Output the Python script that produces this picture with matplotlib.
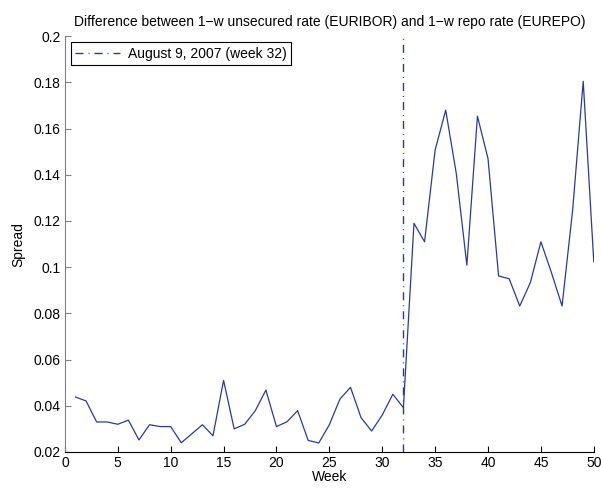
import numpy as np
import matplotlib.pyplot as plt
from matplotlib.ticker import FormatStrFormatter

plt.rcParams['font.family'] = ['Liberation Sans', 'DejaVu Sans']

weeks = np.arange(1, 51)
spread = [0.0438, 0.0421, 0.0330, 0.0330, 0.0320, 0.0338, 0.0252, 0.0318, 0.0310, 0.0310,
          0.0240, 0.0279, 0.0318, 0.0270, 0.0510, 0.0300, 0.0320, 0.0379, 0.0468, 0.0310,
          0.0331, 0.0379, 0.0250, 0.0239, 0.0318, 0.0429, 0.0480, 0.0348, 0.0291, 0.0360,
          0.0450, 0.0392, 0.1190, 0.1110, 0.1507, 0.1680, 0.1406, 0.1009, 0.1654, 0.1470,
          0.0962, 0.0950, 0.0832, 0.0933, 0.1110, 0.0976, 0.0832, 0.1247, 0.1805, 0.1023]
event_week = 32
event_label = 'August 9, 2007 (week 32)'

fs = 10

fig = plt.figure(figsize=(6.01, 4.88), dpi=100)
ax = fig.add_axes([0.108, 0.0738, 0.88, 0.852])

line_col = '#2a3a9c'
ax.plot(weeks, spread, color=line_col, lw=0.9)
ax.axvline(event_week, color=line_col, lw=1.0, linestyle=(0, (5.8, 3.6, 0.7, 3.6)),
           label=event_label)

ax.set_xlim(0, 50)
ax.set_ylim(0.02, 0.2)
ax.set_xticks(np.arange(0, 51, 5))
ax.set_yticks(np.arange(0.02, 0.201, 0.02))
ax.yaxis.set_major_formatter(FormatStrFormatter('%g'))

for s in ['top', 'right']:
    ax.spines[s].set_visible(False)
ax.spines['left'].set_color('#808080')
ax.spines['bottom'].set_color('black')
ax.tick_params(axis='both', direction='in', length=4, labelsize=fs, pad=3)
ax.tick_params(axis='y', color='#808080')

ax.set_title('Difference between 1\u2212w unsecured rate (EURIBOR) and 1\u2212w repo rate (EUREPO)',
             fontsize=fs, pad=7)
ax.set_xlabel('Week', fontsize=fs, labelpad=0)
ax.set_ylabel('Spread', fontsize=fs, labelpad=6)

leg = ax.legend(loc='upper left', fontsize=fs, fancybox=False, framealpha=1,
                edgecolor='black', borderaxespad=0.45, handlelength=3.2,
                borderpad=0.3, handletextpad=0.6)
leg.get_frame().set_linewidth(0.8)

fig.savefig('out.png', dpi=100)
